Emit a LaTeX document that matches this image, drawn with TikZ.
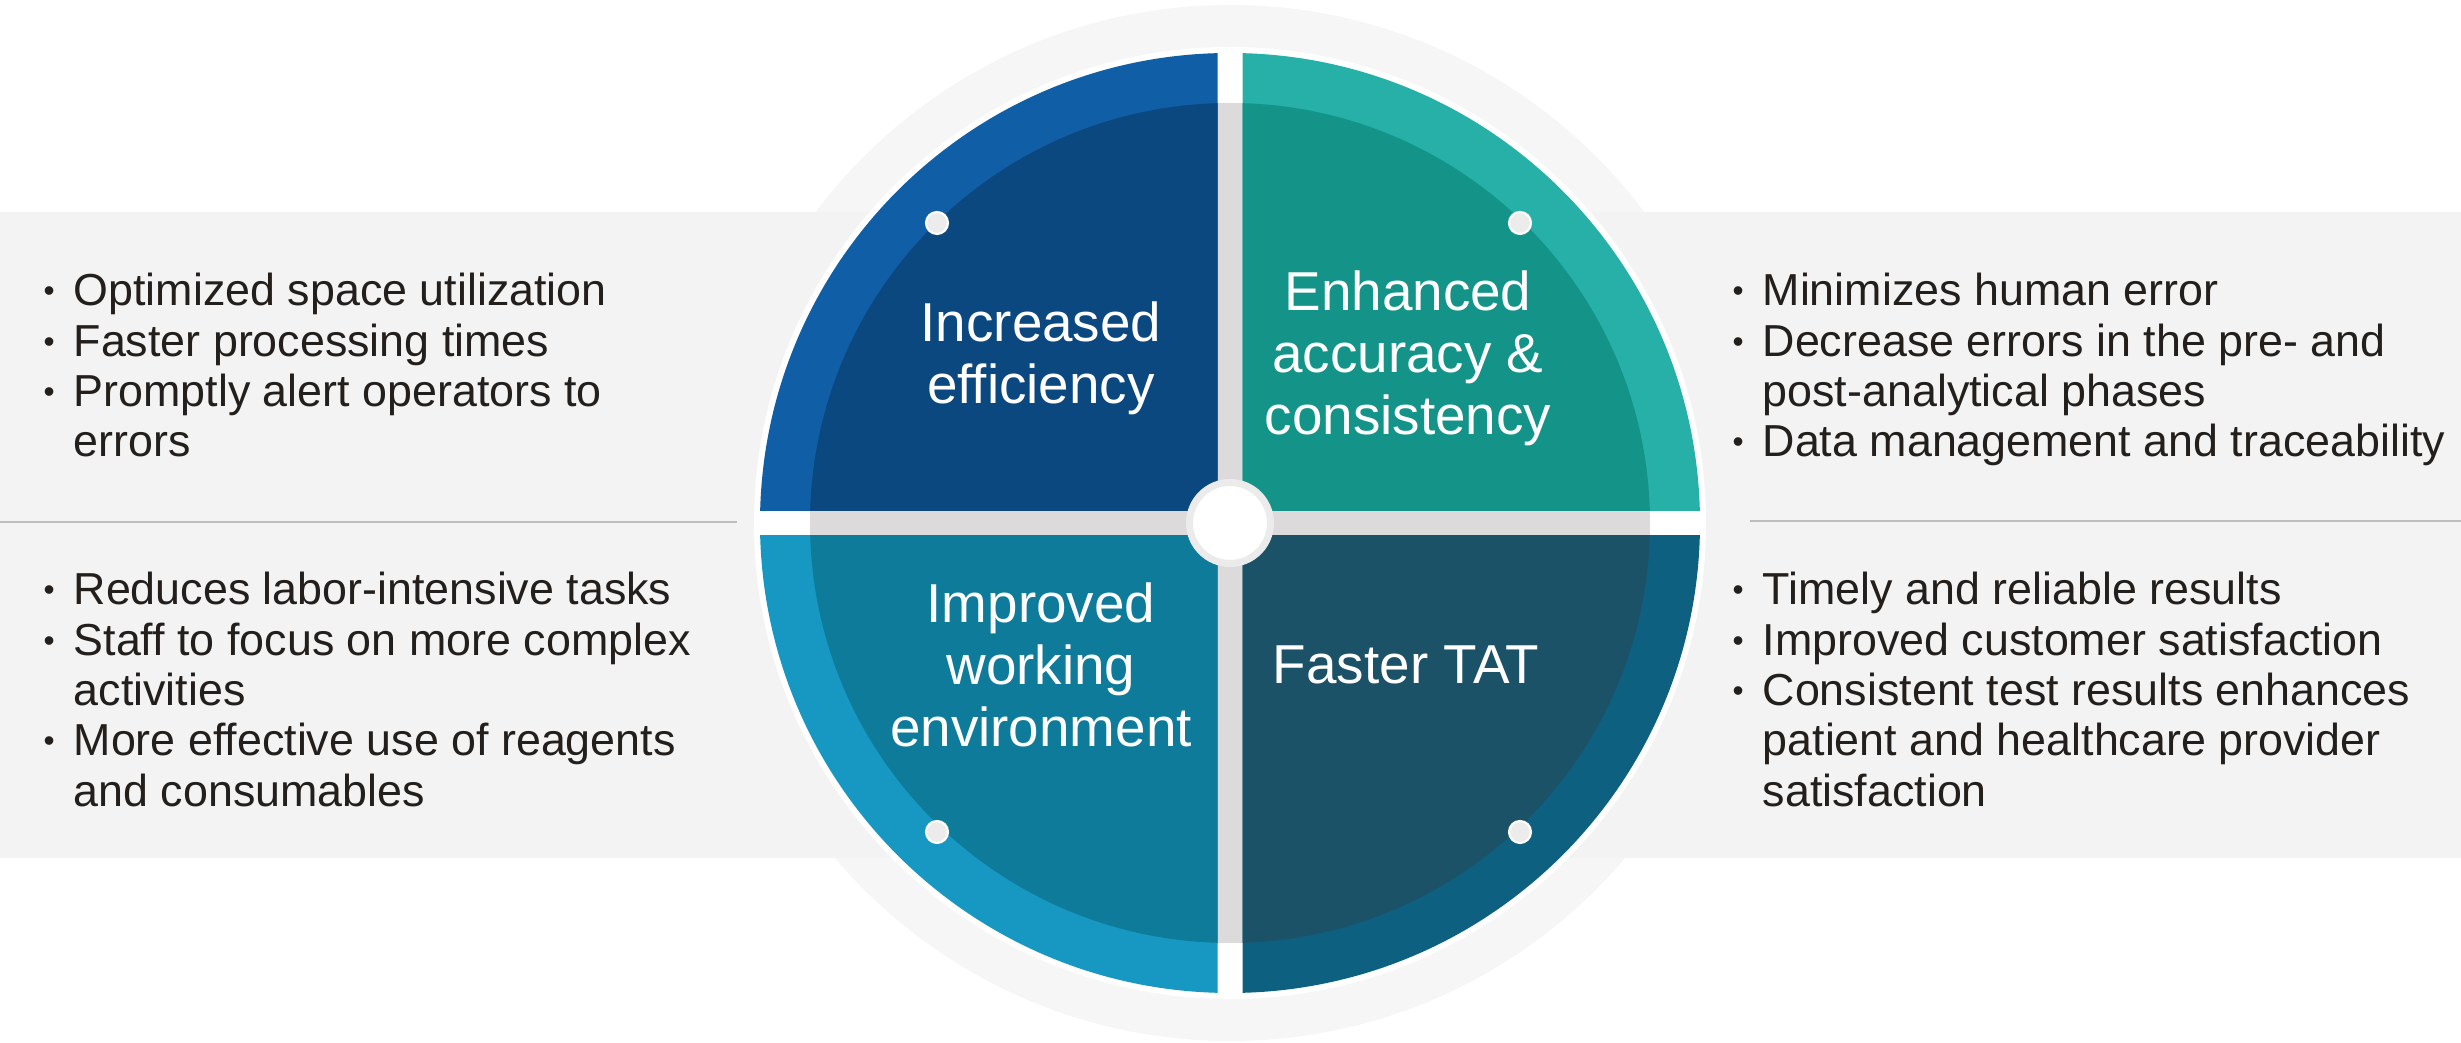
\documentclass[tikz,border=0pt]{standalone}
\usepackage{fontspec}
\setmainfont{Liberation Sans}

\definecolor{bandgray}{HTML}{F3F3F3}
\definecolor{halogray}{HTML}{F6F6F6}
\definecolor{gapgray}{HTML}{DCDADA}
\definecolor{hubgray}{HTML}{EBEBEB}
\definecolor{knobgray}{HTML}{ECECEC}
\definecolor{linegray}{HTML}{BDBDBD}
\definecolor{bodytext}{HTML}{231F1C}
\definecolor{tlout}{HTML}{105EA6}
\definecolor{tlin}{HTML}{0C4880}
\definecolor{trout}{HTML}{26B0A8}
\definecolor{trin}{HTML}{149488}
\definecolor{blout}{HTML}{1798C2}
\definecolor{blin}{HTML}{0E7B9B}
\definecolor{brout}{HTML}{0E6080}
\definecolor{brin}{HTML}{1B5268}

\newcommand{\bul}{\makebox[0.30cm][l]{\raisebox{0.04cm}{\fontsize{9}{9}\selectfont\textbullet}}}

\begin{document}
\begin{tikzpicture}[
    listbox/.style={anchor=base west, inner sep=0,
                    font=\fontsize{12.75}{14.3}\selectfont, text=bodytext},
    qtitle/.style={align=center, inner sep=0, text=white,
                   font=\fontsize{15.6}{17.6}\selectfont},
    knob/.style={circle, fill=knobgray, draw=white, line width=0.6pt,
                 minimum size=0.22cm, inner sep=0},
    sepline/.style={draw=linegray, line width=0.5pt}
]
    \useasboundingbox (0,0) rectangle (24.61,10.43);

    \coordinate (C) at (12.30,5.20);
    \fill[halogray] (C) circle (5.18);
    \fill[bandgray] (0,1.85) rectangle (24.61,8.31);
    \draw[sepline] (0,5.21) -- (7.37,5.21);
    \draw[sepline] (17.50,5.22) -- (24.61,5.22);
    \fill[white] (C) circle (4.76);
    \fill[gapgray] (C) circle (4.20);

    \foreach \sx/\sy/\outc/\innc in {-1/1/tlout/tlin, 1/1/trout/trin,
                                     -1/-1/blout/blin, 1/-1/brout/brin} {
        \begin{scope}
            \clip ([shift={(\sx*0.125,\sy*0.125)}]C) rectangle ([shift={(\sx*5,\sy*5)}]C);
            \fill[\outc] (C) circle (4.70);
            \fill[\innc] (C) circle (4.20);
        \end{scope}
    }

    \node[circle, fill=white, draw=hubgray, line width=0.07cm,
          minimum size=0.81cm, inner sep=0] (hub) at (C) {};

    \node[knob] (knobtl) at (9.37,8.20) {};
    \node[knob] (knobtr) at (15.20,8.20) {};
    \node[knob] (knobbl) at (9.37,2.11) {};
    \node[knob] (knobbr) at (15.20,2.11) {};

    \node[qtitle] (eff) at (10.41,6.85) {Increased\\efficiency};
    \node[qtitle] (acc) at (14.08,6.85) {Enhanced\\accuracy \&\\consistency};
    \node[qtitle] (env) at (10.41,3.78) {Improved\\working\\environment};
    \node[qtitle] (tat) at (14.06,3.78) {Faster TAT};

    \node[listbox] (effpts) at (0.43,7.37) {\begin{tabular}[t]{@{}l@{}l@{}}
        \bul & Optimized space utilization\\
        \bul & Faster processing times\\
        \bul & Promptly alert operators to\\
             & errors
    \end{tabular}};
    \node[listbox] (envpts) at (0.43,4.38) {\begin{tabular}[t]{@{}l@{}l@{}}
        \bul & Reduces labor-intensive tasks\\
        \bul & Staff to focus on more complex\\
             & activities\\
        \bul & More effective use of reagents\\
             & and consumables
    \end{tabular}};
    \node[listbox] (accpts) at (17.32,7.37) {\begin{tabular}[t]{@{}l@{}l@{}}
        \bul & Minimizes human error\\
        \bul & Decrease errors in the pre- and\\
             & post-analytical phases\\
        \bul & Data management and traceability
    \end{tabular}};
    \node[listbox] (tatpts) at (17.32,4.38) {\begin{tabular}[t]{@{}l@{}l@{}}
        \bul & Timely and reliable results\\
        \bul & Improved customer satisfaction\\
        \bul & Consistent test results enhances\\
             & patient and healthcare provider\\
             & satisfaction
    \end{tabular}};
\end{tikzpicture}
\end{document}
